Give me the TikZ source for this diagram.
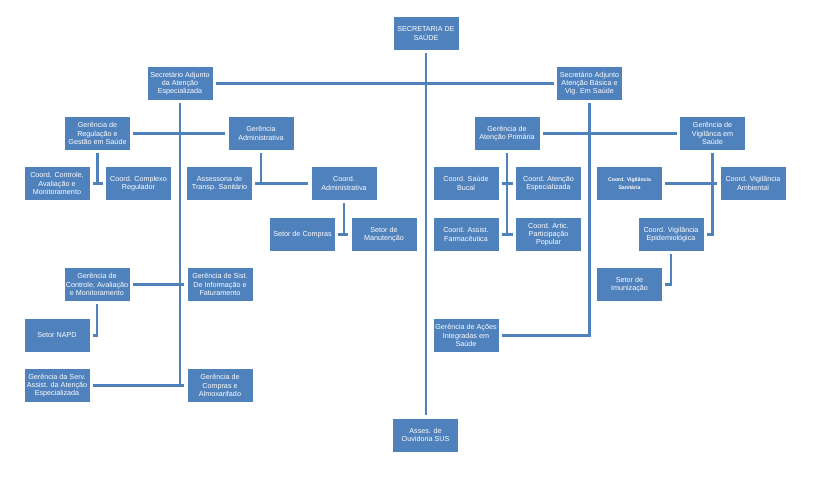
\documentclass[tikz,border=0pt]{standalone}
\usepackage{fontspec}
\setmainfont{Liberation Sans}
\definecolor{orgblue}{HTML}{4F81BD}
\begin{document}
\begin{tikzpicture}[x=1pt,y=-1pt,
    org node/.style={rectangle,fill=orgblue,text=white,minimum width=65pt,minimum height=33pt,inner sep=1pt,align=center,font=\fontsize{7.2}{8.3}\selectfont},
    link/.style={draw=orgblue,line width=2.5pt,shorten <=3pt,shorten >=3pt},
    stem/.style={draw=orgblue,line width=2.5pt,shorten <=3pt}]
    \useasboundingbox (0,0) rectangle (821,482);

    \node[org node] at (426, 33.5) (sec) {SECRETARIA DE\\SAÚDE};
    \node[org node] at (180, 83.5) (adjesp) {Secretário Adjunto\\da Atenção\\Especializada};
    \node[org node] at (589.5, 83.5) (adjbas) {Secretário Adjunto\\Atenção Básica e\\Vig. Em Saúde};
    \node[org node] at (425.5, 435) (ouvid) {Asses. de\\Ouvidoria SUS};

    \node[org node] at (97.5, 133.5) (gerreg) {Gerência de\\Regulação e\\Gestão em Saúde};
    \node[org node] at (261, 133.5) (geradm) {Gerência\\Administrativa};
    \node[org node] at (57, 183.5) (ctrl) {Coord. Controle,\\Avaliação e\\Monitoramento};
    \node[org node] at (138.5, 183.5) (cplx) {Coord. Complexo\\Regulador};
    \node[org node] at (219.5, 183.5) (assess) {Assessoria de\\Transp. Sanitário};
    \node[org node] at (344, 183.5) (cadm) {Coord.\\Administrativa};
    \node[org node] at (302.5, 234.5) (compras) {Setor de Compras};
    \node[org node] at (384, 234.5) (manut) {Setor de\\Manutenção};
    \node[org node] at (97, 284.5) (gerctrl) {Gerência de\\Controle, Avaliação\\e Monitoramento};
    \node[org node] at (220, 284.5) (sist) {Gerência de Sist.\\De Informação e\\Faturamento};
    \node[org node] at (57, 335.5) (napd) {Setor NAPD};
    \node[org node] at (57, 385.5) (serv) {Gerência da Serv.\\Assist. da Atenção\\Especializada};
    \node[org node] at (220, 385.5) (almox) {Gerência de\\Compras e\\Almoxarifado};

    \node[org node] at (507, 133.5) (gerprim) {Gerência de\\Atenção Primária};
    \node[org node] at (712.5, 133.5) (gervig) {Gerência de\\Vigilânca em\\Saúde};
    \node[org node] at (466, 183.5) (bucal) {Coord. Saúde\\Bucal};
    \node[org node] at (548.5, 183.5) (atesp) {Coord. Atenção\\Especializada};
    \node[org node] at (466, 234.5) (farm) {Coord. Assist.\\Farmacêutica};
    \node[org node] at (548.5, 234.5) (artic) {Coord. Artic.\\Participação\\Popular};
    \node[org node,font=\bfseries\fontsize{5.2}{7.5}\selectfont] at (629.5, 183.5) (sanit) {Coord. Vigilância\\Sanitária};
    \node[org node] at (753, 183.5) (amb) {Coord. Vigilância\\Ambiental};
    \node[org node] at (671, 234.5) (epid) {Coord. Vigilância\\Epidemiológica};
    \node[org node] at (629.5, 284.5) (imun) {Setor de\\Imunização};
    \node[org node] at (466, 335.5) (acoes) {Gerência de Ações\\Integradas em\\Saúde};

    \draw[link] (sec.south) -- (sec.south |- ouvid.north);
    \draw[link] (adjesp.east) -- (adjbas.west);

    \draw[stem] (adjesp.south) -- (adjesp.south |- almox.west);
    \draw[link] (gerreg.east) -- (geradm.west);
    \draw[link] (gerctrl.east) -- (sist.west);
    \draw[link] (serv.east) -- (almox.west);
    \draw[stem] (gerreg.south) -- (gerreg.south |- ctrl.east);
    \draw[link] (ctrl.east) -- (cplx.west);
    \draw[stem] (geradm.south) -- (geradm.south |- assess.east);
    \draw[link] (assess.east) -- (cadm.west);
    \draw[stem] (cadm.south) -- (cadm.south |- compras.east);
    \draw[link] (compras.east) -- (manut.west);
    \draw[link] (gerctrl.south) |- (napd.east);

    \draw[link] (adjbas.south) |- (acoes.east);
    \draw[link] (gerprim.east) -- (gervig.west);
    \draw[stem] (gerprim.south) -- (gerprim.south |- farm.east);
    \draw[link] (bucal.east) -- (atesp.west);
    \draw[link] (farm.east) -- (artic.west);
    \draw[link] (sanit.east) -- (amb.west);
    \draw[link] (gervig.south) |- (epid.east);
    \draw[link] (epid.south) |- (imun.east);
\end{tikzpicture}
\end{document}
